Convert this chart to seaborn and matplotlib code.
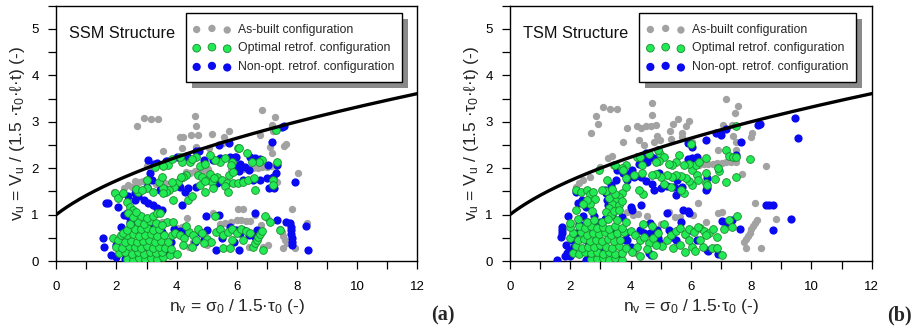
import numpy as np
import pandas as pd
import matplotlib
matplotlib.use("Agg")
import matplotlib.pyplot as plt
import seaborn as sns
from matplotlib.patches import Rectangle

# ---------------- data ----------------
# (a) SSM structure
ssm_asbuilt = [
    (2.69, 2.91), (2.93, 3.09), (3.15, 3.05), (3.38, 3.05), (4.61, 3.13), (4.63, 2.90),
    (4.11, 2.68), (4.20, 2.68), (4.47, 2.72), (4.70, 2.72), (5.19, 2.74), (5.57, 2.67),
    (5.73, 2.81), (6.85, 3.25), (7.27, 3.10), (7.16, 2.93), (6.77, 2.72), (7.58, 2.48),
    (7.64, 2.52), (8.04, 1.89), (7.82, 1.13), (6.03, 1.12), (3.56, 2.37), (4.17, 2.43),
    (4.64, 2.46), (5.09, 2.43), (5.53, 2.54), (3.00, 2.05), (3.04, 2.07), (3.16, 2.07),
    (5.80, 1.95), (5.95, 1.96), (6.10, 1.97), (6.25, 1.98), (6.40, 1.99), (6.55, 2.00),
    (6.70, 2.01), (6.85, 2.02), (7.00, 2.03), (7.15, 2.04), (7.30, 2.05), (4.30, 1.92),
    (4.45, 1.90), (4.60, 1.93), (4.75, 1.95), (4.90, 1.97), (5.05, 1.98), (3.30, 1.65),
    (3.45, 1.63), (3.60, 1.68), (2.76, 1.71), (2.88, 1.73), (2.99, 1.75), (2.37, 1.64),
    (2.26, 1.57), (1.93, 1.49), (3.65, 1.53), (7.16, 2.32), (7.10, 2.46), (7.32, 1.71),
    (7.21, 2.80), (6.60, 0.99), (6.22, 1.12), (4.33, 0.92), (5.22, 1.03), (6.00, 0.88),
    (6.15, 0.88), (6.30, 0.87), (6.45, 0.86), (4.00, 0.72), (4.17, 0.74), (6.88, 0.31),
    (7.05, 0.34), (7.45, 0.70), (7.50, 0.62), (7.55, 0.54), (7.60, 0.46), (7.66, 0.38),
    (7.93, 0.27), (8.32, 0.81), (7.55, 0.27), (2.30, 0.15), (2.50, 0.35), (2.70, 0.60),
    (3.00, 0.30), (3.30, 0.05), (3.45, 0.45), (3.60, 0.20), (2.20, 0.50), (2.80, 0.90),
    (3.50, 0.85), (4.40, 0.30), (4.55, 0.40), (5.00, 0.35), (5.45, 0.80), (5.60, 0.82),
    (5.80, 0.85), (6.40, 0.30), (6.80, 0.78), (7.05, 0.90), (2.50, 1.60), (2.60, 1.72),
]
ssm_nonopt = [
    (7.57, 2.90), (7.50, 2.88), (7.16, 2.57), (5.42, 2.50), (5.73, 2.55), (4.75, 2.36),
    (4.33, 2.26), (4.00, 2.25), (3.63, 2.15), (3.34, 2.12), (3.11, 1.89), (3.19, 1.75),
    (3.00, 1.60), (2.61, 1.46), (2.73, 1.39), (2.61, 1.31), (2.90, 1.31), (3.05, 1.25),
    (3.20, 1.20), (3.35, 1.15), (3.50, 1.10), (1.71, 1.24), (2.04, 1.17), (2.34, 1.03),
    (4.17, 1.21), (4.28, 1.49), (4.39, 1.57), (4.11, 1.60), (4.90, 2.18), (5.20, 2.18),
    (5.43, 2.21), (5.76, 2.25), (5.95, 2.23), (6.10, 2.10), (6.27, 2.03), (6.41, 1.96),
    (6.44, 2.25), (6.60, 2.21), (6.77, 2.19), (7.05, 2.07), (7.32, 2.07), (7.29, 1.89),
    (6.55, 1.75), (6.77, 1.75), (6.99, 1.78), (7.21, 1.82), (7.08, 1.57), (7.24, 1.57),
    (7.93, 1.71), (5.33, 1.69), (5.55, 1.71), (4.66, 1.60), (3.45, 1.53), (3.67, 1.53),
    (3.04, 2.18), (3.26, 2.10), (3.70, 2.16), (4.20, 2.21), (4.64, 2.36), (5.97, 2.25),
    (6.03, 2.03), (6.08, 1.93), (6.19, 1.75), (1.65, 1.24), (2.37, 1.39), (2.26, 0.99),
    (2.15, 0.74), (1.54, 0.49), (1.60, 0.31), (1.82, 0.13), (4.97, 0.96), (5.42, 0.99),
    (5.31, 0.24), (6.08, 0.24), (3.50, 0.62), (3.90, 0.68), (4.10, 0.65), (4.30, 0.60),
    (4.80, 0.60), (5.00, 0.67), (5.77, 0.74), (5.99, 0.67), (6.22, 0.67), (6.40, 0.55),
    (6.60, 1.03), (7.35, 0.88), (7.62, 0.85), (7.78, 0.82), (7.79, 0.74), (7.80, 0.66),
    (7.81, 0.58), (7.82, 0.50), (7.83, 0.42), (7.85, 0.34), (8.29, 0.75), (8.38, 0.24),
    (6.66, 0.67), (6.60, 0.52), (2.00, 0.09), (2.30, 0.05), (2.89, 0.17), (3.22, 0.09),
    (3.67, 0.17), (2.60, 0.30), (3.00, 0.45), (2.45, 0.60), (2.00, 0.35), (3.10, 0.80),
    (3.40, 0.30), (3.80, 0.40), (2.20, 0.25), (2.50, 0.85), (2.78, 0.74), (2.89, 0.67),
    (3.34, 0.67), (3.45, 0.60), (2.39, 0.96), (2.45, 0.85), (4.60, 0.42), (4.90, 0.45),
    (5.50, 0.50), (5.90, 0.40), (6.10, 0.60),
]
ssm_optimal = [
    (7.29, 2.82), (7.32, 2.14), (6.83, 2.18), (6.75, 2.14), (6.52, 2.14), (6.33, 2.32),
    (6.05, 2.44), (5.83, 2.14), (5.43, 2.14), (5.27, 2.18), (4.77, 2.05), (4.64, 2.25),
    (4.44, 2.13), (4.17, 2.13), (4.11, 2.25), (3.72, 2.07), (3.56, 2.05), (3.28, 2.02),
    (4.70, 1.85), (4.83, 1.82), (5.00, 1.75), (5.16, 1.71), (5.33, 1.82), (5.50, 1.75),
    (5.66, 1.68), (5.88, 1.68), (6.05, 1.69), (6.22, 1.71), (6.38, 1.75), (6.57, 1.78),
    (4.77, 1.64), (4.95, 1.72), (5.10, 1.88), (5.25, 1.78), (5.60, 1.62), (5.75, 1.85),
    (4.30, 1.85), (4.20, 1.82), (4.03, 1.71), (3.92, 1.60), (3.75, 1.53), (3.64, 1.49),
    (3.83, 1.71), (3.56, 1.57), (3.56, 1.46), (3.89, 1.31), (4.39, 1.31), (4.50, 1.39),
    (4.94, 1.49), (5.22, 1.57), (5.72, 1.49), (6.60, 1.52), (7.19, 1.75), (7.19, 1.64),
    (3.00, 1.57), (3.22, 1.49), (3.00, 1.75), (2.73, 1.49), (1.95, 1.46), (2.06, 1.35),
    (2.23, 1.46), (2.34, 1.28), (2.45, 1.17), (2.56, 1.10), (2.39, 1.03), (3.85, 2.20),
    (4.50, 2.20), (4.95, 2.10), (5.60, 2.22), (5.10, 2.28), (2.65, 1.55), (2.85, 1.52),
    (3.40, 1.70), (3.50, 1.82), (4.14, 1.82), (5.81, 2.07), (5.86, 1.91), (6.08, 2.43),
    (2.35, 0.05), (2.55, 0.03), (2.75, 0.06), (2.95, 0.04), (3.15, 0.07), (3.35, 0.05),
    (3.55, 0.08), (2.10, 0.17), (2.30, 0.20), (2.50, 0.16), (2.70, 0.19), (2.90, 0.15),
    (3.10, 0.20), (3.30, 0.17), (3.50, 0.19), (3.78, 0.13), (2.00, 0.31), (2.20, 0.28),
    (2.42, 0.33), (2.62, 0.30), (2.82, 0.27), (3.02, 0.32), (3.22, 0.29), (3.42, 0.31),
    (3.62, 0.28), (1.89, 0.50), (2.06, 0.45), (2.28, 0.42), (2.48, 0.44), (2.68, 0.40),
    (2.88, 0.43), (3.08, 0.45), (3.28, 0.41), (3.48, 0.44), (3.70, 0.42), (2.15, 0.57),
    (2.35, 0.55), (2.55, 0.58), (2.75, 0.53), (2.95, 0.56), (3.15, 0.58), (3.35, 0.54),
    (3.58, 0.56), (3.85, 0.55), (2.23, 0.60), (2.34, 0.67), (2.60, 0.70), (2.80, 0.68),
    (3.00, 0.71), (3.20, 0.66), (3.42, 0.70), (3.67, 0.85), (3.89, 0.83), (2.45, 0.80),
    (2.70, 0.84), (2.90, 0.80), (3.10, 0.86), (3.30, 0.82), (3.50, 0.78), (2.55, 0.95),
    (2.80, 0.98), (3.00, 0.93), (3.20, 0.97), (3.34, 1.03), (3.45, 1.03), (2.65, 1.05),
    (3.95, 0.60), (4.10, 0.55), (4.25, 0.50), (4.40, 0.62), (4.55, 0.55), (4.70, 0.68),
    (4.85, 0.60), (5.00, 0.48), (5.15, 0.42), (5.30, 0.62), (5.45, 0.68), (5.55, 0.55),
    (5.70, 0.62), (5.85, 0.70), (6.00, 0.60), (6.15, 0.68), (6.30, 0.65), (6.45, 0.60),
    (4.20, 0.35), (4.50, 0.30), (4.90, 0.38), (5.27, 0.96), (5.55, 0.27), (5.77, 0.27),
    (6.88, 0.24), (6.94, 0.96), (7.10, 0.85), (7.44, 0.67), (6.55, 0.31), (6.60, 0.38),
    (6.66, 0.45), (6.72, 0.52), (6.78, 0.58), (6.85, 0.65), (4.30, 0.75), (4.65, 0.45),
    (5.85, 0.45), (6.20, 0.45), (3.80, 0.25), (4.00, 0.15),
]

# (b) TSM structure
tsm_asbuilt = [
    (2.70, 2.75), (2.84, 3.13), (2.91, 2.95), (3.09, 3.31), (3.31, 3.27), (3.56, 3.27),
    (3.89, 2.86), (4.23, 2.90), (4.34, 2.87), (4.50, 2.91), (4.67, 2.91), (4.83, 2.93),
    (4.70, 3.40), (4.72, 3.15), (3.76, 2.56), (4.28, 2.60), (4.45, 2.50), (4.78, 2.56),
    (4.89, 2.70), (5.41, 2.95), (5.58, 3.05), (5.94, 3.02), (5.83, 2.91), (5.35, 2.62),
    (5.72, 2.68), (6.05, 2.57), (7.16, 3.49), (7.58, 3.34), (7.47, 3.18), (7.38, 2.93),
    (7.40, 2.69), (7.49, 2.57), (7.49, 2.39), (7.99, 2.68), (8.04, 2.75), (8.48, 2.05),
    (7.71, 1.87), (8.13, 1.24), (8.82, 0.90), (8.32, 0.29), (7.84, 0.29), (6.91, 1.04),
    (7.05, 1.06), (6.25, 1.24), (5.28, 1.06), (4.54, 0.97), (3.89, 1.06), (4.17, 0.17),
    (6.82, 0.31), (7.77, 0.40), (7.83, 0.47), (7.89, 0.54), (7.95, 0.61), (8.01, 0.68),
    (8.07, 0.75), (8.13, 0.82), (8.19, 0.88), (6.27, 2.07), (6.42, 2.08), (6.57, 2.09),
    (6.72, 2.10), (6.87, 2.11), (7.02, 2.12), (7.17, 2.13), (7.32, 2.14), (7.49, 2.14),
    (7.08, 2.93), (6.91, 2.39), (3.26, 2.21), (3.40, 2.26), (2.43, 1.75), (2.65, 1.82),
    (2.30, 1.68), (2.99, 2.03), (4.09, 0.99), (4.25, 1.02), (5.48, 0.95), (5.64, 0.95),
    (6.08, 0.99), (3.54, 0.52), (5.31, 2.79), (5.72, 2.75), (4.97, 2.61), (2.20, 1.60),
    (3.00, 0.40), (3.40, 0.20), (2.60, 0.10), (5.00, 0.80), (5.80, 0.55), (6.50, 0.85),
]
tsm_nonopt = [
    (9.46, 3.07), (9.57, 2.64), (8.23, 2.93), (8.30, 2.95), (7.65, 2.57), (7.16, 2.84),
    (6.99, 2.72), (6.83, 2.75), (6.49, 2.61), (5.92, 2.54), (6.05, 2.46), (5.90, 2.20),
    (6.05, 2.22), (6.20, 2.25), (7.49, 2.28), (6.49, 1.53), (6.55, 1.57), (5.50, 1.42),
    (4.78, 1.53), (5.00, 1.58), (5.22, 1.62), (5.45, 1.60), (5.61, 1.55), (4.78, 2.21),
    (4.45, 2.18), (4.28, 2.10), (4.06, 1.96), (4.12, 1.82), (3.89, 1.75), (3.51, 1.75),
    (3.34, 1.64), (3.17, 1.46), (3.23, 1.31), (4.35, 1.80), (4.50, 1.72), (4.70, 1.65),
    (4.94, 1.89), (4.50, 2.32), (4.67, 2.25), (8.60, 1.21), (8.49, 1.21), (8.71, 1.21),
    (9.31, 0.90), (8.74, 0.67), (7.63, 0.70), (7.36, 0.88), (7.16, 0.83), (5.92, 1.08),
    (5.94, 1.03), (5.66, 0.85), (5.28, 0.67), (5.39, 0.52), (5.50, 0.45), (4.30, 0.67),
    (4.45, 0.60), (4.65, 0.60), (4.85, 0.55), (4.67, 0.13), (4.62, 0.17), (4.90, 0.50),
    (4.95, 0.40), (6.55, 0.24), (6.90, 0.15), (3.54, 1.96), (3.75, 1.90), (3.90, 1.88),
    (4.54, 2.14), (4.92, 2.39), (5.53, 1.75), (5.70, 1.60), (3.15, 1.53), (3.25, 1.20),
    (3.30, 1.05), (3.37, 0.99), (3.82, 0.45), (4.00, 0.30), (4.09, 0.24), (4.65, 0.81),
    (4.87, 0.67), (5.20, 1.03), (5.75, 1.10), (5.97, 0.67), (6.20, 0.45), (1.55, 0.02),
    (1.68, 0.52), (1.71, 0.60), (1.74, 0.67), (1.74, 0.74), (1.83, 0.10), (1.90, 0.17),
    (1.96, 0.24), (2.12, 0.31), (2.07, 0.45), (1.94, 0.96), (2.18, 1.49), (2.27, 1.24),
    (2.40, 1.31), (2.51, 1.17), (2.51, 0.02), (2.62, 0.09), (2.75, 0.67), (2.84, 0.80),
    (2.80, 0.96), (3.00, 0.85), (3.15, 0.90), (4.06, 1.10), (4.00, 1.17), (4.34, 1.21),
    (3.84, 0.60), (3.89, 0.45), (2.30, 0.80), (2.20, 0.60), (1.85, 0.35), (2.00, 0.10),
    (3.30, 0.20), (3.60, 0.05), (3.10, 0.30), (2.90, 0.50), (3.50, 0.70), (3.70, 0.95),
    (2.60, 0.40), (2.43, 0.96), (2.54, 0.85), (2.38, 0.67), (6.97, 2.75), (6.52, 1.78),
    (7.03, 0.86), (7.25, 0.81), (6.58, 0.22),
]
tsm_optimal = [
    (7.51, 2.91), (6.02, 2.52), (7.16, 2.39), (7.27, 2.26), (7.40, 2.23), (7.49, 2.25),
    (7.95, 2.19), (7.49, 1.80), (7.16, 1.71), (6.80, 1.76), (6.93, 1.93), (6.49, 1.89),
    (6.49, 1.69), (6.55, 1.64), (6.05, 1.64), (5.94, 1.72), (5.83, 1.78), (5.66, 1.84),
    (5.50, 1.85), (5.39, 1.82), (5.22, 1.85), (5.00, 1.82), (4.83, 1.87), (4.72, 1.85),
    (6.05, 1.96), (6.16, 2.07), (6.27, 2.14), (6.49, 2.21), (5.94, 2.10), (5.77, 2.07),
    (5.61, 2.28), (5.50, 2.14), (5.39, 2.07), (5.28, 2.10), (4.97, 2.30), (5.11, 2.25),
    (4.94, 2.16), (4.83, 2.14), (4.39, 2.07), (4.37, 1.89), (4.23, 2.25), (3.84, 2.07),
    (3.73, 2.00), (3.45, 2.07), (3.23, 1.75), (2.95, 1.96), (4.42, 1.44), (4.28, 1.53),
    (5.77, 1.46), (5.66, 1.53), (5.33, 1.60), (5.10, 1.65), (3.84, 1.78), (3.84, 1.60),
    (3.73, 1.46), (3.62, 1.38), (3.51, 1.30), (3.40, 1.22), (3.29, 1.14), (3.18, 1.06),
    (3.35, 1.00), (3.45, 1.08), (3.60, 1.20), (3.70, 1.30), (3.30, 1.35), (3.50, 1.45),
    (2.20, 1.52), (2.37, 1.48), (2.54, 1.52), (2.65, 1.44), (2.76, 1.48), (2.82, 1.33),
    (2.65, 1.23), (2.71, 1.08), (2.54, 1.31), (2.43, 1.22), (2.18, 1.10), (4.90, 2.40),
    (4.60, 2.30), (4.10, 1.85), (3.20, 1.50), (3.48, 2.07), (3.76, 1.96), (4.32, 2.25),
    (6.20, 1.85), (6.25, 1.75), (6.91, 2.00), (3.04, 1.53), (3.37, 1.55), (3.62, 1.10),
    (2.70, 0.05), (2.90, 0.04), (3.10, 0.07), (3.30, 0.03), (3.50, 0.06), (3.72, 0.03),
    (2.10, 0.18), (2.30, 0.15), (2.50, 0.20), (2.70, 0.17), (2.90, 0.20), (3.10, 0.16),
    (3.30, 0.19), (3.50, 0.15), (3.70, 0.18), (2.20, 0.33), (2.40, 0.28), (2.60, 0.31),
    (2.80, 0.30), (3.00, 0.34), (3.20, 0.30), (3.40, 0.28), (3.60, 0.32), (3.85, 0.27),
    (2.00, 0.50), (2.25, 0.45), (2.45, 0.47), (2.65, 0.43), (2.85, 0.46), (3.05, 0.44),
    (3.25, 0.48), (3.45, 0.43), (3.65, 0.46), (2.10, 0.60), (2.35, 0.62), (2.55, 0.57),
    (2.75, 0.60), (2.95, 0.58), (3.15, 0.62), (3.35, 0.57), (3.55, 0.60), (3.78, 0.62),
    (2.00, 0.74), (2.30, 0.75), (2.50, 0.72), (2.70, 0.76), (2.90, 0.71), (3.10, 0.74),
    (3.30, 0.70), (3.50, 0.76), (3.70, 0.72), (2.25, 0.90), (2.55, 0.85), (2.80, 0.88),
    (3.05, 0.84), (3.25, 0.90), (3.55, 0.88), (3.85, 0.85), (1.99, 0.81),
    (4.00, 0.65), (4.15, 0.55), (4.30, 0.45), (4.45, 0.52), (4.60, 0.38), (4.75, 0.50),
    (4.90, 0.60), (5.05, 0.32), (5.20, 0.45), (5.35, 0.55), (5.50, 0.65), (5.65, 0.72),
    (5.80, 0.58), (5.95, 0.70), (6.10, 0.62), (6.30, 0.72), (6.45, 0.65), (6.60, 0.60),
    (6.75, 0.68), (4.20, 0.30), (4.55, 0.25), (4.85, 0.35), (5.40, 0.27), (5.64, 0.34),
    (6.05, 0.31), (6.15, 0.22), (6.40, 0.30), (6.71, 0.27), (6.88, 0.27), (7.05, 0.12),
    (7.54, 0.97), (7.27, 0.88), (7.38, 0.74), (7.10, 0.68), (4.70, 0.75), (5.10, 0.80),
    (4.40, 0.80), (5.95, 0.45), (6.30, 0.45), (4.05, 0.20), (4.30, 0.10), (4.75, 0.12),
    (5.80, 0.20), (6.25, 0.74), (6.50, 0.55), (6.86, 0.52),
]

curve_n = np.linspace(0, 12, 200)   # limit curve v_u = sqrt(1 + n_v)
curve_v = np.sqrt(1.0 + curve_n)

labels = ["As-built configuration", "Optimal retrof. configuration", "Non-opt. retrof. configuration"]
titles = ["SSM Structure", "TSM Structure"]
panel_tags = ["(a)", "(b)"]

# ---------------- style ----------------
sns.set_style("ticks")
plt.rcParams["font.family"] = ["Liberation Sans", "DejaVu Sans"]
plt.rcParams["mathtext.default"] = "regular"

GREY = "#A2A2A2"
GREEN = "#22EA55"
GREEN_EDGE = "#1C8A2E"
BLUE = "#0A0AF0"

fig = plt.figure(figsize=(9.19, 3.31), dpi=100)
AX_H = 255.3
ax_a = fig.add_axes([56.3 / 919, 70 / 331, 361 / 919, AX_H / 331])
ax_b = fig.add_axes([510 / 919, 70 / 331, 361.7 / 919, AX_H / 331])


def draw_panel(ax, grey, green, blue, title, tag, tag_x, ax_w):
    dg = pd.DataFrame(grey, columns=["n", "v"])
    db = pd.DataFrame(blue, columns=["n", "v"])
    dn = pd.DataFrame(green, columns=["n", "v"])
    sns.scatterplot(data=dg, x="n", y="v", ax=ax, color=GREY, s=28, linewidth=0,
                    label=labels[0], legend=False, zorder=2)
    sns.scatterplot(data=db, x="n", y="v", ax=ax, color=BLUE, s=35, linewidth=0,
                    label=labels[2], legend=False, zorder=3)
    sns.scatterplot(data=dn, x="n", y="v", ax=ax, color=GREEN, s=31, edgecolor=GREEN_EDGE,
                    linewidth=0.6, label=labels[1], legend=False, zorder=4)
    sns.lineplot(x=curve_n, y=curve_v, ax=ax, color="black", linewidth=2.4, zorder=5)

    ax.set_xlim(0, 12)
    ax.set_ylim(0, 5.5)
    ax.set_xticks(np.arange(0, 13, 2))
    ax.set_xticks(np.arange(1, 12, 2), minor=True)
    ax.set_yticks(np.arange(0, 6, 1))
    ax.set_yticks(np.arange(0.5, 5.6, 1), minor=True)
    ax.tick_params(which="both", direction="out", length=5.5, width=0.9, color="black",
                   labelsize=9.5, labelcolor="black")
    ax.tick_params(axis="x", which="both", pad=9)
    ax.tick_params(axis="y", which="both", pad=7)
    for sp in ax.spines.values():
        sp.set_visible(True)
        sp.set_linewidth(1.0)
        sp.set_color("black")

    ax.set_xlabel(r"n$_v$ = σ$_0$ / 1.5·τ$_0$ (-)", fontsize=12.5, labelpad=3)
    ax.set_ylabel(r"v$_u$ = V$_u$ / (1.5 ·τ$_0$·ℓ·t) (-)", fontsize=12.5, labelpad=3)
    ax.text(0.42, 4.9, title, fontsize=11.7, va="center", ha="left", color="#111111")

    # legend frame with offset shadow (pixel geometry of the reference)
    bx0, bx1 = 129.4 / ax_w, 346.0 / ax_w
    by0, by1 = 1 - 76.6 / AX_H, 1 - 7.0 / AX_H
    dx, dy = 6 / ax_w, 6 / AX_H
    ax.add_patch(Rectangle((bx0 + dx, by0 - dy), bx1 - bx0, by1 - by0, transform=ax.transAxes,
                           facecolor="#8a8a8a", edgecolor="none", zorder=8, clip_on=False))
    ax.add_patch(Rectangle((bx0, by0), bx1 - bx0, by1 - by0, transform=ax.transAxes,
                           facecolor="white", edgecolor="black", linewidth=1.0, zorder=9,
                           clip_on=False))

    h, l = ax.get_legend_handles_labels()
    order = [l.index(lab) for lab in labels]
    leg = ax.legend([h[i] for i in order], [l[i] for i in order],
                    loc="upper left", bbox_to_anchor=(136.7 / ax_w, 1 - 18.0 / AX_H),
                    borderaxespad=0, borderpad=0, frameon=False,
                    scatterpoints=3, fontsize=8.8, labelspacing=0.55,
                    handlelength=3.1, handletextpad=0.6)
    leg.set_zorder(10)

    fig.text(tag_x / 919, 1 - 315 / 331, tag, fontfamily="Liberation Serif",
             fontweight="bold", fontsize=14.5, ha="center", va="center")


draw_panel(ax_a, ssm_asbuilt, ssm_optimal, ssm_nonopt, titles[0], panel_tags[0], 443, 361.0)
draw_panel(ax_b, tsm_asbuilt, tsm_optimal, tsm_nonopt, titles[1], panel_tags[1], 899, 361.7)

fig.savefig("out.png", dpi=100)
